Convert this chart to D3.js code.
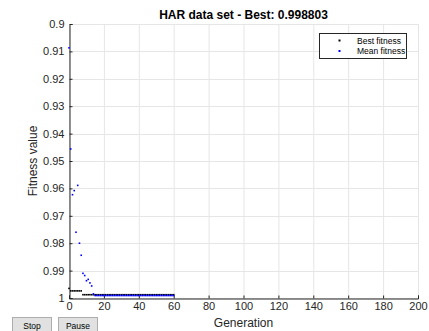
<!DOCTYPE html>
<html><head><meta charset="utf-8">
<script src="https://cdn.jsdelivr.net/npm/d3@7"></script>
<style>
html,body{margin:0;padding:0;background:#fff;}
svg{display:block;font-family:"Liberation Sans",Arial,Helvetica,sans-serif;}
</style></head>
<body>
<svg id="c" width="429" height="331"></svg>
<script>
const titleText = "HAR data set - Best: 0.998803";
const xLabel = "Generation";
const yLabel = "Fitness value";
const seriesNames = ["Best fitness", "Mean fitness"];
const xTicks = [0,20,40,60,80,100,120,140,160,180,200];
const yTicks = [0.9,0.91,0.92,0.93,0.94,0.95,0.96,0.97,0.98,0.99,1];
const generations = [0,1,2,3,4,5,6,7,8,9,10,11,12,13,14,15,16,17,18,19,20,21,22,23,24,25,26,27,28,29,30,31,32,33,34,35,36,37,38,39,40,41,42,43,44,45,46,47,48,49,50,51,52,53,54,55,56,57,58,59,60];
const bestFitness = [0.9965,0.9974,0.9974,0.9974,0.9974,0.9974,0.9974,0.9974,
  0.998803,0.998803,0.998803,0.998803,0.998803,0.998803,0.998803,0.998803,0.998803,0.998803,0.998803,0.998803,
  0.998803,0.998803,0.998803,0.998803,0.998803,0.998803,0.998803,0.998803,0.998803,0.998803,
  0.998803,0.998803,0.998803,0.998803,0.998803,0.998803,0.998803,0.998803,0.998803,0.998803,
  0.998803,0.998803,0.998803,0.998803,0.998803,0.998803,0.998803,0.998803,0.998803,0.998803,
  0.998803,0.998803,0.998803,0.998803,0.998803,0.998803,0.998803,0.998803,0.998803,0.998803,0.998803];
const meanFitness = [0.9087,0.9456,0.9623,0.9608,0.9760,0.9589,0.9800,0.9844,0.9910,0.9918,
  0.9937,0.9932,0.9945,0.9956,0.9985,0.9991,0.9991,0.9991,0.9991,0.9991,
  0.9991,0.9991,0.9991,0.9991,0.9991,0.9991,0.9991,0.9991,0.9991,0.9991,
  0.9991,0.9991,0.9991,0.9991,0.9991,0.9991,0.9991,0.9991,0.9991,0.9991,
  0.9991,0.9991,0.9991,0.9991,0.9991,0.9991,0.9991,0.9991,0.9991,0.9991,
  0.9991,0.9991,0.9991,0.9991,0.9991,0.9991,0.9991,0.9991,0.9991,0.9991,0.9991];
const buttons = ["Stop","Pause"];

const svg = d3.select("#c");
const L = 69, R = 418, T = 24, B = 298;
const x = d3.scaleLinear().domain([0,200]).range([L,R]);
const y = d3.scaleLinear().domain([0.9,1]).range([T,B]);
const tickCol = "#262626";

// grid
const g = svg.append("g");
g.selectAll(".gx").data(xTicks).join("line")
  .attr("x1",d=>x(d)+0.5).attr("x2",d=>x(d)+0.5).attr("y1",T).attr("y2",B)
  .attr("stroke","#e6e6e6").attr("stroke-width",1);
g.selectAll(".gy").data(yTicks).join("line")
  .attr("y1",d=>Math.round(y(d))+0.5).attr("y2",d=>Math.round(y(d))+0.5).attr("x1",L).attr("x2",R)
  .attr("stroke","#e6e6e6").attr("stroke-width",1);

// axes (MATLAB style, inward ticks)
const xAxis = d3.axisBottom(x).tickValues(xTicks).tickSize(-3).tickPadding(4).tickFormat(d3.format("~g"));
const yAxis = d3.axisLeft(y).tickValues(yTicks).tickSize(-3).tickPadding(5).tickFormat(d3.format("~g"));
const ax = svg.append("g").attr("transform",`translate(0,${B+0.5})`).call(xAxis);
const ay = svg.append("g").attr("transform",`translate(${L+0.5},0)`).call(yAxis);
[ax,ay].forEach(a=>{
  a.select(".domain").attr("stroke",tickCol).attr("stroke-width",1);
  a.selectAll(".tick line").attr("stroke",tickCol);
  a.selectAll(".tick text").attr("fill",tickCol).style("font-size","11px").style("font-family","Liberation Sans, Arial, sans-serif");
});

// data points
svg.append("g").selectAll("rect").data(generations).join("rect")
  .attr("x",(d,i)=>x(d)-0.8).attr("y",(d,i)=>y(bestFitness[i])-0.8)
  .attr("width",1.6).attr("height",1.6).attr("fill","#000");
svg.append("g").selectAll("rect").data(generations).join("rect")
  .attr("x",(d,i)=>x(d)-0.8).attr("y",(d,i)=>y(meanFitness[i])-0.8)
  .attr("width",1.6).attr("height",1.6).attr("fill","#0000ff");

// title & labels
svg.append("text").attr("x",(L+R)/2).attr("y",19).attr("text-anchor","middle")
  .style("font-size","12px").style("font-weight","bold").attr("fill","#000").text(titleText);
svg.append("text").attr("x",(L+R)/2).attr("y",327).attr("text-anchor","middle")
  .style("font-size","12px").attr("fill",tickCol).text(xLabel);
svg.append("text").attr("transform",`translate(37,${(T+B)/2}) rotate(-90)`).attr("text-anchor","middle")
  .style("font-size","12px").attr("fill",tickCol).text(yLabel);

// legend
const lg = svg.append("g");
lg.append("rect").attr("x",319.5).attr("y",33.5).attr("width",87).attr("height",25)
  .attr("fill","#fff").attr("stroke","#262626").attr("stroke-width",1);
const colors = ["#000","#0000ff"];
seriesNames.forEach((n,i)=>{
  const yy = 40.5 + i*10.5;
  lg.append("rect").attr("x",338.5).attr("y",yy-1).attr("width",2).attr("height",2).attr("fill",colors[i]);
  lg.append("text").attr("x",357).attr("y",yy+3).style("font-size","8.5px").attr("fill","#000").text(n);
});

// buttons
const bx = [12,58];
buttons.forEach((b,i)=>{
  svg.append("rect").attr("x",bx[i]+0.5).attr("y",317.5).attr("width",39).attr("height",16)
    .attr("fill","#e1e1e1").attr("stroke","#adadad");
  svg.append("text").attr("x",bx[i]+20).attr("y",329).attr("text-anchor","middle")
    .style("font-size","8.5px").attr("fill","#000").text(b);
});
</script>
</body></html>
